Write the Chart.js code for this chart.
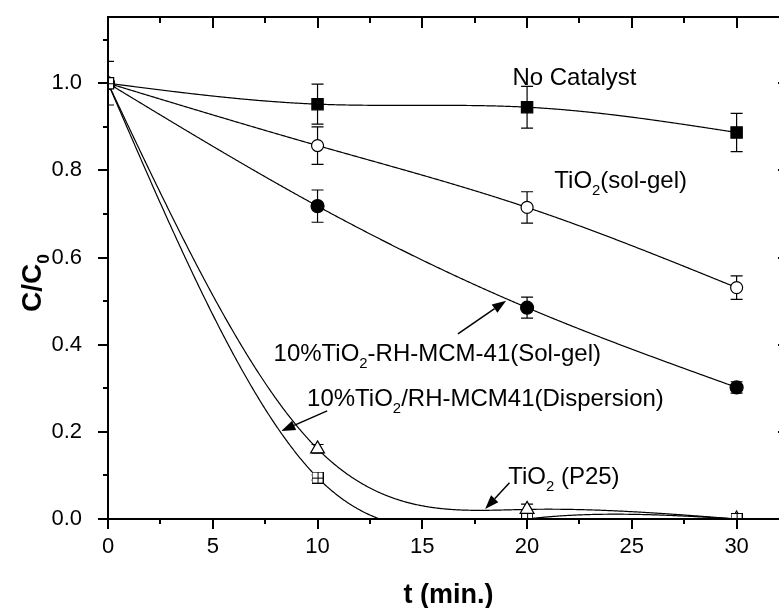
<!DOCTYPE html>
<html>
<head>
<meta charset="utf-8">
<title>Photocatalytic degradation C/C0 vs time</title>
<script src="https://cdn.jsdelivr.net/npm/chart.js@4.4.0/dist/chart.umd.min.js"></script>
<style>
  html, body { margin: 0; padding: 0; background: #fff; overflow: hidden; }
  canvas { display: block; }
</style>
</head>
<body>
<canvas id="degradationChart" width="820" height="608"></canvas>
<script>
// sampling times (min.)
const times = [0, 10, 20, 30];

// C/C0 for each catalyst, with error bar half-heights
const noCatalyst = [1.0, 0.952, 0.945, 0.887];
const noCatalystErr = [0.05, 0.046, 0.048, 0.044];

const tio2SolGel = [1.0, 0.857, 0.715, 0.531];
const tio2SolGelErr = [0, 0.043, 0.036, 0.027];

const rhSolGel = [1.0, 0.718, 0.485, 0.302];
const rhSolGelErr = [0, 0.037, 0.024, 0.013];

const rhDispersion = [1.0, 0.095, 0.0, 0.0];
const rhDispersionErr = [0, 0.006, 0, 0];

const tio2P25 = [1.0, 0.161, 0.022, 0.0];
const tio2P25Err = [0, 0.01, 0.012, 0];

const xTicks = [0, 5, 10, 15, 20, 25, 30];
const yTicks = [0.0, 0.2, 0.4, 0.6, 0.8, 1.0];

const FONT = '"Liberation Sans", Arial, Helvetica, sans-serif';

// curve labels and their arrows, in data units
const notes = [
    { text: 'No Catalyst', x: 19.3, y: 0.995 },
    { text: 'TiO_{2}(sol-gel)', x: 21.3, y: 0.759 },
    { text: '10%TiO_{2}-RH-MCM-41(Sol-gel)', x: 7.9, y: 0.363 },
    { text: '10%TiO_{2}/RH-MCM41(Dispersion)', x: 9.5, y: 0.26 },
    { text: 'TiO_{2} (P25)', x: 19.1, y: 0.08 }
];
const arrows = [
    { from: [16.7, 0.425], to: [19.0, 0.501] },
    { from: [10.46, 0.248], to: [8.27, 0.202] },
    { from: [19.16, 0.083], to: [18.0, 0.023] }
];

// open square with grid lines for the dispersion sample
function gridSquare(size) {
    const c = document.createElement('canvas');
    c.width = size; c.height = size;
    const g = c.getContext('2d');
    g.fillStyle = '#fff';
    g.fillRect(0.5, 0.5, size - 1, size - 1);
    g.strokeStyle = '#000';
    g.lineWidth = 1;
    g.strokeRect(0.5, 0.5, size - 1, size - 1);
    const m = Math.floor(size / 2) + 0.5;
    g.beginPath();
    g.moveTo(m, 0); g.lineTo(m, size);
    g.moveTo(0, m); g.lineTo(size, m);
    g.stroke();
    return c;
}

const series = [
    { values: rhDispersion, err: rhDispersionErr, style: gridSquare(12), radius: 6, fill: '#fff' },
    { values: tio2P25, err: tio2P25Err, style: 'triangle', radius: 8, fill: '#fff' },
    { values: rhSolGel, err: rhSolGelErr, style: 'circle', radius: 6.5, fill: '#000' },
    { values: tio2SolGel, err: tio2SolGelErr, style: 'circle', radius: 6, fill: '#fff' },
    { values: noCatalyst, err: noCatalystErr, style: 'rect', radius: 8, fill: '#000' }
];

// natural cubic spline through the points, returns y(x)
function naturalSpline(xs, ys) {
    const n = xs.length;
    const m = new Array(n).fill(0);
    const a = [], b = [], c = [], d = [];
    for (let i = 1; i < n - 1; i++) {
        const h0 = xs[i] - xs[i - 1], h1 = xs[i + 1] - xs[i];
        a.push(h0); b.push(2 * (h0 + h1)); c.push(h1);
        d.push(6 * ((ys[i + 1] - ys[i]) / h1 - (ys[i] - ys[i - 1]) / h0));
    }
    const k = b.length;
    for (let i = 1; i < k; i++) {
        const w = a[i] / b[i - 1];
        b[i] -= w * c[i - 1];
        d[i] -= w * d[i - 1];
    }
    const sol = new Array(k);
    for (let i = k - 1; i >= 0; i--) {
        sol[i] = (d[i] - (i < k - 1 ? c[i] * sol[i + 1] : 0)) / b[i];
    }
    for (let i = 0; i < k; i++) m[i + 1] = sol[i];
    return x => {
        let i = 0;
        while (i < n - 2 && x > xs[i + 1]) i++;
        const h = xs[i + 1] - xs[i];
        const t1 = xs[i + 1] - x, t0 = x - xs[i];
        return m[i] * t1 * t1 * t1 / (6 * h) + m[i + 1] * t0 * t0 * t0 / (6 * h)
            + (ys[i] / h - m[i] * h / 6) * t1 + (ys[i + 1] / h - m[i + 1] * h / 6) * t0;
    };
}

// text with _{...} subscripts; returns the width
function drawRich(ctx, str, x, y, size, bold, measureOnly) {
    const parts = str.split(/(_\{[^}]*\})/).filter(Boolean);
    let cx = x;
    for (const p of parts) {
        const sub = p.startsWith('_{');
        const t = sub ? p.slice(2, -1) : p;
        const fs = sub ? size * 0.62 : size;
        ctx.font = (bold ? 'bold ' : '') + fs + 'px ' + FONT;
        if (!measureOnly) ctx.fillText(t, cx, sub ? y + size * 0.3 : y);
        cx += ctx.measureText(t).width;
    }
    return cx - x;
}

const splineAndErrors = {
    id: 'splineAndErrors',
    beforeDatasetsDraw(chart) {
        const ctx = chart.ctx;
        const ax = chart.scales.x, ay = chart.scales.y;
        const area = chart.chartArea;
        ctx.save();
        ctx.beginPath();
        ctx.rect(area.left, area.top, area.right - area.left, area.bottom - area.top);
        ctx.clip();
        ctx.strokeStyle = '#000';
        ctx.lineWidth = 1.2;
        series.forEach(s => {
            const f = naturalSpline(times, s.values);
            const p0 = ax.getPixelForValue(times[0]);
            const p1 = ax.getPixelForValue(times[times.length - 1]);
            ctx.beginPath();
            for (let px = p0; px <= p1; px += 1) {
                const py = ay.getPixelForValue(f(ax.getValueForPixel(px)));
                if (px === p0) ctx.moveTo(px, py); else ctx.lineTo(px, py);
            }
            ctx.stroke();
        });
        // error bars
        ctx.lineWidth = 1.2;
        series.forEach(s => {
            s.err.forEach((e, i) => {
                if (!e) return;
                const px = ax.getPixelForValue(times[i]);
                const hi = ay.getPixelForValue(s.values[i] + e);
                const lo = ay.getPixelForValue(s.values[i] - e);
                ctx.beginPath();
                ctx.moveTo(px, hi); ctx.lineTo(px, lo);
                ctx.moveTo(px - 6, hi); ctx.lineTo(px + 6, hi);
                ctx.moveTo(px - 6, lo); ctx.lineTo(px + 6, lo);
                ctx.stroke();
            });
        });
        ctx.restore();
    },
    afterDraw(chart) {
        const ctx = chart.ctx;
        const ax = chart.scales.x, ay = chart.scales.y;
        const { left, right, top, bottom } = chart.chartArea;
        ctx.save();
        ctx.strokeStyle = '#000';
        ctx.fillStyle = '#000';
        ctx.lineWidth = 2;
        ctx.strokeRect(left, top, right - left, bottom - top);

        // tick marks: outward on bottom/left, inward on top/right
        ctx.beginPath();
        for (let v = 0; v <= ax.max + 1e-9; v += 2.5) {
            const px = Math.round(ax.getPixelForValue(v));
            const major = Math.abs(v % 5) < 1e-9;
            ctx.moveTo(px, bottom); ctx.lineTo(px, bottom + (major ? 10 : 5));
            ctx.moveTo(px, top); ctx.lineTo(px, top + (major ? 11 : 6));
        }
        for (let k = 0; k <= 11; k++) {
            const py = Math.round(ay.getPixelForValue(k / 10));
            const major = k % 2 === 0;
            ctx.moveTo(left, py); ctx.lineTo(left - (major ? 10 : 5), py);
            ctx.moveTo(right, py); ctx.lineTo(right - (major ? 11 : 6), py);
        }
        ctx.stroke();

        // curve labels
        ctx.textAlign = 'left';
        ctx.textBaseline = 'alphabetic';
        notes.forEach(n => {
            drawRich(ctx, n.text, ax.getPixelForValue(n.x), ay.getPixelForValue(n.y), 24, false);
        });

        // arrows
        ctx.lineWidth = 1.5;
        arrows.forEach(a => {
            const x0 = ax.getPixelForValue(a.from[0]), y0 = ay.getPixelForValue(a.from[1]);
            const x1 = ax.getPixelForValue(a.to[0]), y1 = ay.getPixelForValue(a.to[1]);
            const ang = Math.atan2(y1 - y0, x1 - x0);
            const hl = 14, hw = 5;
            const bx = x1 - hl * Math.cos(ang), by = y1 - hl * Math.sin(ang);
            ctx.beginPath();
            ctx.moveTo(x0, y0); ctx.lineTo(bx, by);
            ctx.stroke();
            ctx.beginPath();
            ctx.moveTo(x1, y1);
            ctx.lineTo(bx + hw * Math.sin(ang), by - hw * Math.cos(ang));
            ctx.lineTo(bx - hw * Math.sin(ang), by + hw * Math.cos(ang));
            ctx.closePath();
            ctx.fill();
        });

        // axis titles
        const xt = 't (min.)';
        ctx.font = 'bold 27px ' + FONT;
        ctx.textAlign = 'center';
        ctx.fillText(xt, (left + right) / 2, 603);

        ctx.textAlign = 'left';
        const yt = 'C/C_{0}';
        const w = drawRich(ctx, yt, 0, 0, 28, true, true);
        ctx.translate(41, 283);
        ctx.rotate(-Math.PI / 2);
        drawRich(ctx, yt, -w / 2, 0, 28, true, false);
        ctx.restore();
    }
};

const ctx = document.getElementById('degradationChart').getContext('2d');
const degradationChart = new Chart(ctx, {
    type: 'scatter',
    data: {
        datasets: series.map(s => ({
            data: times.map((t, i) => ({ x: t, y: s.values[i] })),
            showLine: false,
            pointStyle: s.style,
            pointRadius: s.radius,
            pointBackgroundColor: s.fill,
            pointBorderColor: '#000',
            pointBorderWidth: 1.2,
            clip: 0
        }))
    },
    options: {
        responsive: false,
        animation: false,
        events: [],
        layout: { padding: { top: 17, right: 31, left: 0, bottom: 0 } },
        plugins: {
            legend: { display: false },
            tooltip: { enabled: false }
        },
        scales: {
            x: {
                type: 'linear',
                min: 0,
                max: 32.5,
                grid: { display: false },
                border: { display: false },
                afterBuildTicks: s => { s.ticks = xTicks.map(v => ({ value: v })); },
                afterFit: s => {
                    s.height = 89;
                    s.paddingLeft = 0;
                    s.paddingRight = 0;
                },
                ticks: {
                    color: '#000',
                    font: { family: FONT, size: 22 },
                    padding: 7,
                    maxRotation: 0,
                    autoSkip: false
                }
            },
            y: {
                type: 'linear',
                min: 0,
                max: 1.152,
                grid: { display: false },
                border: { display: false },
                afterBuildTicks: s => { s.ticks = yTicks.map(v => ({ value: v })); },
                afterFit: s => {
                    s.width = 108;
                    s.paddingTop = 0;
                    s.paddingBottom = 0;
                },
                ticks: {
                    color: '#000',
                    font: { family: FONT, size: 22 },
                    padding: 18,
                    callback: v => v.toFixed(1)
                }
            }
        }
    },
    plugins: [splineAndErrors]
});
</script>
</body>
</html>
